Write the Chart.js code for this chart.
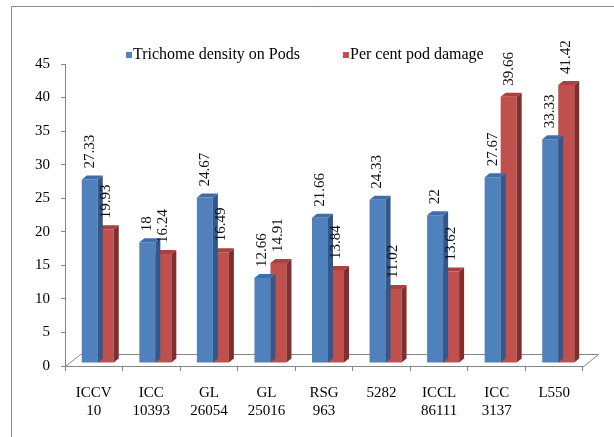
<!DOCTYPE html>
<html>
<head>
<meta charset="utf-8">
<script src="https://cdn.jsdelivr.net/npm/chart.js@4.4.0/dist/chart.umd.min.js"></script>
<style>
  body { margin: 0; background: #fff; }
  canvas { display: block; }
</style>
</head>
<body>
<canvas id="chart" width="614" height="437"></canvas>
<script>
const categories = [
    ['ICCV', '10'], ['ICC', '10393'], ['GL', '26054'], ['GL', '25016'], ['RSG', '963'],
    ['5282'], ['ICCL', '86111'], ['ICC', '3137'], ['L550']
];
const trichomeDensity = [27.33, 18, 24.67, 12.66, 21.66, 24.33, 22, 27.67, 33.33];
const podDamage = [19.93, 16.24, 16.49, 14.91, 13.84, 11.02, 13.62, 39.66, 41.42];
const yTicks = [0, 5, 10, 15, 20, 25, 30, 35, 40, 45];

const seriesNames = ['Trichome density on Pods', 'Per cent pod damage'];
const fronts = ['#4F81BD', '#C0504D'];
const tops = ['#3F6EA9', '#A7423F'];
const sides = ['#34578A', '#7F302E'];

const FONT = '"Liberation Serif", "Times New Roman", serif';
const AXIS = '#868686';
const DEPTH_X = 5, DEPTH_Y = -4;     // bar depth
const SHIFT_X = 4, SHIFT_Y = -3;     // bars stand in the middle of the floor
const FLOOR_X = 15, FLOOR_Y = -12;   // floor depth

// draws the frame, floor, 3d faces, value labels and the legend
const fakeThreeD = {
    id: 'fakeThreeD',
    beforeDraw(chart) {
        const ctx = chart.ctx;
        ctx.save();
        ctx.strokeStyle = '#8a8a8a';
        ctx.lineWidth = 1;
        ctx.beginPath();
        ctx.moveTo(11.5, 437);
        ctx.lineTo(11.5, 6.5);
        ctx.lineTo(614, 6.5);
        ctx.stroke();

        // floor
        const a = chart.chartArea;
        ctx.strokeStyle = AXIS;
        ctx.beginPath();
        ctx.moveTo(a.left + 0.5, a.bottom + 0.5);
        ctx.lineTo(a.left + FLOOR_X + 0.5, a.bottom + FLOOR_Y + 0.5);
        ctx.lineTo(a.right + FLOOR_X + 0.5, a.bottom + FLOOR_Y + 0.5);
        ctx.lineTo(a.right + 0.5, a.bottom + 0.5);
        ctx.stroke();

        // legend
        ctx.font = '16px ' + FONT;
        ctx.textBaseline = 'middle';
        let x = 126;
        chart.data.datasets.forEach((ds, i) => {
            ctx.fillStyle = fronts[i];
            ctx.fillRect(x, 52, 6, 6);
            ctx.fillStyle = '#000';
            ctx.fillText(ds.label, x + 7, 55);
            x += 7 + ctx.measureText(ds.label).width + 43;
        });
        ctx.restore();
    },
    beforeDatasetsDraw(chart) {
        chart.ctx.save();
        chart.ctx.translate(SHIFT_X, SHIFT_Y);
    },
    afterDatasetDraw(chart, args) {
        const ctx = chart.ctx;
        const i = args.index;
        args.meta.data.forEach(bar => {
            const l = bar.x - bar.width / 2, r = bar.x + bar.width / 2;
            const t = bar.y, b = bar.base;
            ctx.fillStyle = sides[i];
            ctx.beginPath();
            ctx.moveTo(r, t);
            ctx.lineTo(r + DEPTH_X, t + DEPTH_Y);
            ctx.lineTo(r + DEPTH_X, b + DEPTH_Y);
            ctx.lineTo(r, b);
            ctx.closePath();
            ctx.fill();
            ctx.fillStyle = tops[i];
            ctx.beginPath();
            ctx.moveTo(l, t);
            ctx.lineTo(l + DEPTH_X, t + DEPTH_Y);
            ctx.lineTo(r + DEPTH_X, t + DEPTH_Y);
            ctx.lineTo(r, t);
            ctx.closePath();
            ctx.fill();
        });
    },
    afterDatasetsDraw(chart) {
        const ctx = chart.ctx;
        ctx.font = '15px ' + FONT;
        ctx.fillStyle = '#111';
        ctx.textAlign = 'left';
        ctx.textBaseline = 'middle';
        chart.data.datasets.forEach((ds, i) => {
            chart.getDatasetMeta(i).data.forEach((bar, j) => {
                ctx.save();
                ctx.translate(bar.x, bar.y - 11);
                ctx.rotate(-Math.PI / 2);
                ctx.fillText(String(ds.data[j]), 0, 0);
                ctx.restore();
            });
        });
        ctx.restore();
    }
};

new Chart(document.getElementById('chart'), {
    type: 'bar',
    data: {
        labels: categories,
        datasets: [
            { label: seriesNames[0], data: trichomeDensity, backgroundColor: fronts[0] },
            { label: seriesNames[1], data: podDamage, backgroundColor: fronts[1] }
        ]
    },
    options: {
        responsive: false,
        animation: false,
        devicePixelRatio: 1,
        layout: { padding: { top: 64, right: 31, left: 0, bottom: 0 } },
        datasets: {
            bar: { categoryPercentage: 0.556, barPercentage: 1.0, borderWidth: 0, clip: false }
        },
        plugins: {
            legend: { display: false },
            tooltip: { enabled: false }
        },
        scales: {
            x: {
                afterFit: s => { s.height = 71; },
                border: { display: true, color: AXIS },
                grid: { display: true, drawOnChartArea: false, drawTicks: true, tickLength: 5, color: AXIS },
                ticks: {
                    color: '#000',
                    font: { family: FONT, size: 15, lineHeight: 1.2 },
                    padding: 13,
                    maxRotation: 0,
                    autoSkip: false
                }
            },
            y: {
                min: 0,
                max: 45,
                afterFit: s => { s.width = 65; },
                afterBuildTicks: s => { s.ticks = yTicks.map(v => ({ value: v })); },
                border: { display: true, color: AXIS },
                grid: { display: true, drawOnChartArea: false, drawTicks: true, tickLength: 4, color: AXIS },
                ticks: {
                    color: '#000',
                    font: { family: FONT, size: 15 },
                    padding: 11
                }
            }
        }
    },
    plugins: [fakeThreeD]
});
</script>
</body>
</html>
